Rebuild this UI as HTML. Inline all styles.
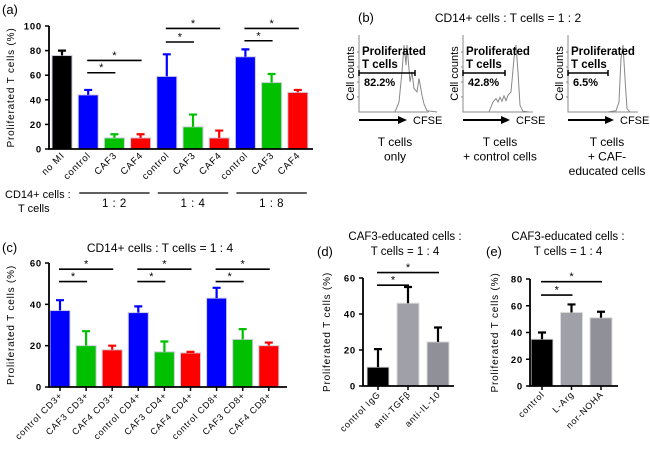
<!DOCTYPE html>
<html><head><meta charset="utf-8"><style>
body{margin:0;background:#fff}
svg{display:block;font-family:"Liberation Sans",Arial,sans-serif}
</style></head><body>
<svg id="fig" width="650" height="453" viewBox="0 0 650 453">
<g id="static" fill="none">
 <text x="2" y="14" font-size="13" fill="#000" stroke="none">(a)</text>
 <text x="5" y="198" font-size="11" fill="#000" stroke="none">CD14+ cells :</text>
 <text x="18" y="212" font-size="11" fill="#000" stroke="none">T cells</text>
 <g stroke="none" fill="#000">
  <text x="358" y="22" font-size="13">(b)</text>
  <text x="508" y="22" font-size="12" text-anchor="middle">CD14+ cells : T cells = 1 : 2</text>
 </g>
 <g id="hists"></g>
 <text x="2" y="252" font-size="13" fill="#000" stroke="none">(c)</text>
 <text x="160" y="252" font-size="12" text-anchor="middle" fill="#000" stroke="none">CD14+ cells : T cells = 1 : 4</text>
 <text x="317" y="256" font-size="13" fill="#000" stroke="none">(d)</text>
 <text x="405" y="240" font-size="11.5" text-anchor="middle" fill="#000" stroke="none">CAF3-educated cells :</text>
 <text x="405" y="255" font-size="11.5" text-anchor="middle" fill="#000" stroke="none">T cells = 1 : 4</text>
 <text x="486" y="256" font-size="13" fill="#000" stroke="none">(e)</text>
 <text x="568" y="240" font-size="11.5" text-anchor="middle" fill="#000" stroke="none">CAF3-educated cells :</text>
 <text x="568" y="255" font-size="11.5" text-anchor="middle" fill="#000" stroke="none">T cells = 1 : 4</text>
</g>
<g id="charts"></g>
</svg>
<script>
// ---- Panel (a) data ----
const aCategories = ["no MI","control","CAF3","CAF4","control","CAF3","CAF4","control","CAF3","CAF4"];
const aValues = [76,44,9,9,59,18,9,75,54,46];
const aErrors = [4,4,3,3,18,10,6,6,7,2];
const aTicks = [0,20,40,60,80,100];
const aGroups = ["1 : 2","1 : 4","1 : 8"];
// ---- Panel (c) data ----
const cCategories = ["control CD3+","CAF3 CD3+","CAF4 CD3+","control CD4+","CAF3 CD4+","CAF4 CD4+","control CD8+","CAF3 CD8+","CAF4 CD8+"];
const cValues = [37,20,18,36,17,16.5,43,23,20];
const cErrors = [5,7,2,3,5,0.5,5,5,1.5];
const cTicks = [0,20,40,60];
// ---- Panel (d) data ----
const dCategories = ["control IgG","anti-TGFβ","anti-IL-10"];
const dValues = [10.5,46,24.5];
const dErrors = [10,9,8];
const dTicks = [0,20,40,60];
// ---- Panel (e) data ----
const eCategories = ["control","L-Arg","nor-NOHA"];
const eValues = [35,55,51];
const eErrors = [5,6,4.5];
const eTicks = [0,20,40,60,80];
// ---- Panel (b) data ----
const bPercents = ["82.2%","42.8%","6.5%"];

const NS="http://www.w3.org/2000/svg";
const root=document.getElementById('charts');
function mk(tag,attrs,parent){const e=document.createElementNS(NS,tag);for(const k in attrs)e.setAttribute(k,attrs[k]);(parent||root).appendChild(e);return e;}

function chart(cfg){
  const g=mk('g',{});
  
  
  const yS=v=>cfg.y0-(v-0)*(cfg.y0-cfg.yTop)/cfg.yMax;
  const xL=i=>cfg.first+i*cfg.step;
  cfg.values.forEach((v,i)=>{
    const col=cfg.colors[i];
    const r=mk('rect',{x:xL(i),y:yS(v),width:cfg.bw,height:cfg.y0-yS(v),fill:col,stroke:cfg.edge,'stroke-width':1},g);
    
    
    const cx=xL(i)+cfg.bw/2, ec=cfg.errColor||col;
    const t=yS(v+cfg.errors[i]);
    const eb=mk('path',{d:`M${cx},${yS(v)}V${t}M${cx-4},${t}H${cx+4}`,stroke:ec,'stroke-width':2.2,fill:'none'},g);
    
    
    if(cfg.xticks) mk('line',{x1:cx,x2:cx,y1:cfg.y0,y2:cfg.y0+4,stroke:'#000','stroke-width':1.5},g);
    const lab=mk('text',{x:0,y:0,'font-size':cfg.fs||9,'text-anchor':'end','letter-spacing':'0.8',transform:`translate(${cx+3},${cfg.y0+cfg.labOff}) rotate(-45)`,fill:'#000'},g);
    lab.textContent=cfg.cats[i];
    
    
  });
  const ax=mk('path',{d:`M${cfg.x0},${cfg.yTop}V${cfg.y0}H${cfg.xEnd}`,stroke:'#000','stroke-width':1.8,fill:'none'},g);
  
  
  cfg.ticks.forEach(t=>{
    mk('line',{x1:cfg.x0-4,x2:cfg.x0,y1:yS(t),y2:yS(t),stroke:'#000','stroke-width':1.5},g);
    const tl=mk('text',{x:cfg.x0-7,y:yS(t)+3.5,'font-size':9.5,'font-weight':'bold','text-anchor':'end','letter-spacing':'0.8',fill:'#000'},g);
    tl.textContent=t;
    
    
  });
  const yt=mk('text',{x:0,y:0,'font-size':10,'text-anchor':'middle','letter-spacing':'0.8',transform:`translate(${cfg.ytX},${(cfg.yTop+cfg.y0)/2}) rotate(-90)`,fill:'#000'},g);
  yt.textContent='Proliferated T cells (%)';
  
  
  cfg.sig.forEach(s=>{
    const x1=xL(s[0])+cfg.bw/2-1, x2=xL(s[1])+cfg.bw/2+1, y=yS(s[2]);
    const l=mk('line',{x1:x1,x2:x2,y1:y,y2:y,stroke:'#000','stroke-width':1.6},g);
    
    
    const st=mk('text',{x:(x1+x2)/2,y:y-1.5,'font-size':11,'text-anchor':'middle',fill:'#000'},g);
    st.textContent='*';
  });
  return {g,xL,yS};
}
const B='#0000ff',G='#00c000',R='#ff0000',K='#000';
const a=chart({name:'chart-a',cats:aCategories,values:aValues,errors:aErrors,ticks:aTicks,yMax:100,x0:49,y0:149,yTop:26,xEnd:313,first:52,step:26.2,bw:20,
  colors:[K,B,G,R,B,G,R,B,G,R],edge:'#ccd',labOff:7,ytX:14,fs:9.5,
  sig:[[1,2,62],[1,3,72],[4,5,87],[4,6,98],[7,8,88],[7,9,98]]});
aGroups.forEach((gname,i)=>{
  const x1=a.xL(1+3*i)+1, x2=a.xL(3+3*i)+19;
  const l=mk('line',{x1:x1,x2:x2,y1:193,y2:193,stroke:'#000','stroke-width':1.2},a.g);
  
  
  const t=mk('text',{x:(x1+x2)/2,y:207,'font-size':11.5,'text-anchor':'middle','letter-spacing':'0.5',fill:'#000'},a.g);
  t.textContent=gname;
  
  
});
chart({name:'chart-c',cats:cCategories,values:cValues,errors:cErrors,ticks:cTicks,yMax:60,x0:49,y0:387,yTop:263,xEnd:287,first:50,step:26.1,bw:20,
  colors:[B,G,R,B,G,R,B,G,R],edge:'#ccd',labOff:9,ytX:14,xticks:true,fs:9,
  sig:[[0,1,51],[0,2,57],[3,4,51],[3,5,57],[6,7,51],[6,8,57]]});
chart({name:'chart-d',cats:dCategories,values:dValues,errors:dErrors,ticks:dTicks,yMax:60,x0:363,y0:386,yTop:278,xEnd:454,first:367,step:30,bw:22,
  colors:['#000','#a0a0a8','#909098'],edge:'#ddd',errColor:'#000',labOff:9,ytX:330,xticks:true,fs:9,
  sig:[[0,1,56],[0,2,63]]});
chart({name:'chart-e',cats:eCategories,values:eValues,errors:eErrors,ticks:eTicks,yMax:80,x0:530,y0:386,yTop:279,xEnd:618,first:531,step:29.5,bw:22,
  colors:['#000','#a0a0a8','#909098'],edge:'#ddd',errColor:'#000',labOff:9,ytX:498,xticks:true,fs:9,
  sig:[[0,1,68],[0,2,78]]});

// ---- Panel (b) histograms (illustrative) ----
const H=document.getElementById('hists');
const hists=[
 {x:359,bar:56,arrow:48,cx:395,lines:['T cells','only'],
  pts:[[0,0],[36,0],[40,0.15],[43,0.6],[45,1.0],[47,0.7],[48,1.0],[51,0.45],[53,0.6],[55,0.35],[58,0.3],[60,0.5],[63,0.25],[65,0.12],[68,0.02],[78,0]]},
 {x:463,bar:42,arrow:47,cx:500,lines:['T cells','+ control cells'],
  pts:[[0,0],[26,0],[30,0.15],[33,0.2],[35,0.15],[37,0.22],[39,0.16],[41,0.24],[43,0.17],[45,0.25],[48,0.3],[51,0.8],[53,1.0],[55,0.6],[57,0.1],[60,0.01],[66,0]]},
 {x:568,bar:40,arrow:46,cx:607,lines:['T cells','+ CAF-','educated cells'],
  pts:[[0,0],[40,0],[48,0.02],[51,0.15],[53,0.8],[55,1.0],[57,0.5],[59,0.05],[62,0],[66,0]]}
];
hists.forEach((h,k)=>{
  const gg=mk('g',{},H);
  
  
  const x=h.x, top=35, bot=112;
  mk('path',{d:`M${x},${top}V${bot}H${x+70}`,fill:'none',stroke:'#888','stroke-width':1},gg);
  for(let j=1;j<5;j++) mk('line',{x1:x-2,x2:x,y1:bot-j*15,y2:bot-j*15,stroke:'#888'},gg);
  const d=h.pts.map((p,i)=>(i?'L':'M')+(x+p[0]).toFixed(1)+','+(bot-p[1]*(bot-top-10)).toFixed(1)).join('');
  mk('path',{d:d,fill:'none',stroke:'#888','stroke-width':1},gg);
  const t1=mk('text',{x:x+3,y:55,'font-size':11.5,'font-weight':'bold',fill:'#000'},gg);t1.textContent='Proliferated';
  const t2=mk('text',{x:x+3,y:68,'font-size':11.5,'font-weight':'bold',fill:'#000'},gg);t2.textContent='T cells';
  mk('path',{d:`M${x},70v6M${x},73H${x+h.bar}M${x+h.bar},70v6`,stroke:'#000','stroke-width':1.5},gg);
  const t3=mk('text',{x:x+5,y:86,'font-size':11,'font-weight':'bold',fill:'#000'},gg);t3.textContent=bPercents[k];
  const yl=mk('text',{x:0,y:0,'font-size':11,'text-anchor':'middle',transform:`translate(${x-5},${(top+bot)/2}) rotate(-90)`,fill:'#000'},gg);yl.textContent='Cell counts';
  mk('path',{d:`M${x},120H${x+h.arrow-8}`,stroke:'#000','stroke-width':2},gg);
  mk('path',{d:`M${x+h.arrow-9},116L${x+h.arrow},120L${x+h.arrow-9},124Z`,fill:'#000'},gg);
  const cf=mk('text',{x:x+h.arrow+6,y:124,'font-size':11,fill:'#000'},gg);cf.textContent='CFSE';
  h.lines.forEach((s,i)=>{const t=mk('text',{x:h.cx,y:146+i*14.5,'font-size':12,'text-anchor':'middle',fill:'#000'},gg);t.textContent=s;});
});
</script>
</body></html>
